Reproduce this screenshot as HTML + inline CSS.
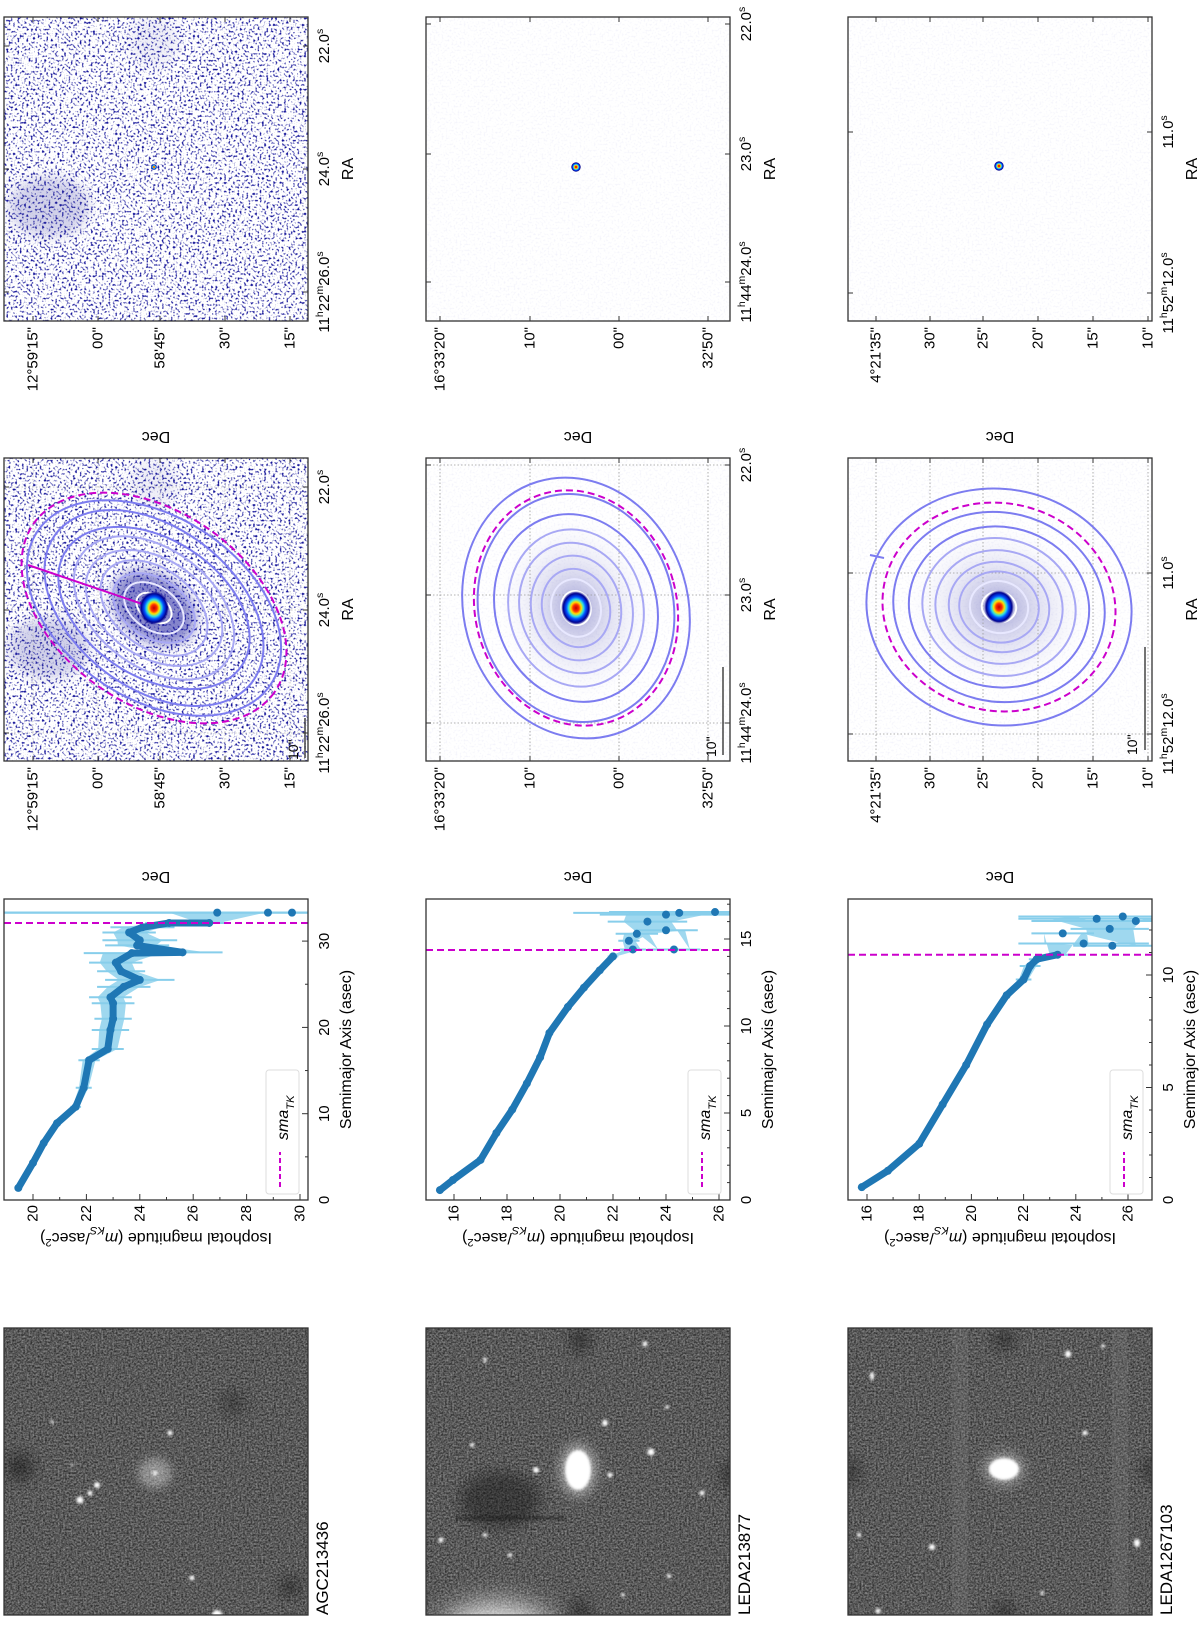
<!DOCTYPE html>
<html><head><meta charset="utf-8"><style>
html,body{margin:0;padding:0;background:#fff;}
svg{display:block;font-family:"Liberation Sans","DejaVu Sans",sans-serif;}
</style></head><body>
<svg id="fig" width="1200" height="1647" viewBox="0 0 1200 1647" xmlns="http://www.w3.org/2000/svg">
<defs>
<filter id="speck" x="0" y="0" width="1" height="1" filterUnits="objectBoundingBox" color-interpolation-filters="sRGB"><feTurbulence type="fractalNoise" baseFrequency="0.45" numOctaves="1" seed="3"/><feColorMatrix type="matrix" values="0 0 0 0 0.08  0 0 0 0 0.08  0 0 0 0 0.6  5 0 0 0 -2.65"/></filter>
<filter id="faint" x="0" y="0" width="1" height="1" filterUnits="objectBoundingBox" color-interpolation-filters="sRGB"><feTurbulence type="fractalNoise" baseFrequency="0.5" numOctaves="1" seed="5"/><feColorMatrix type="matrix" values="0 0 0 0 0.7  0 0 0 0 0.7  0 0 0 0 0.9  2 0 0 0 -1.0"/></filter>
<filter id="gray" x="0" y="0" width="1" height="1" filterUnits="objectBoundingBox" color-interpolation-filters="sRGB"><feTurbulence type="fractalNoise" baseFrequency="0.55" numOctaves="2" seed="11"/><feColorMatrix type="matrix" values="0.6 0 0 0 0.05  0.6 0 0 0 0.05  0.6 0 0 0 0.05  0 0 0 0 1"/></filter>
<filter id="blur1" x="-100%" y="-100%" width="300%" height="300%"><feGaussianBlur stdDeviation="1.2"/></filter>
<filter id="blur6" x="-100%" y="-100%" width="300%" height="300%"><feGaussianBlur stdDeviation="6"/></filter>
<filter id="blur15" x="-100%" y="-100%" width="300%" height="300%"><feGaussianBlur stdDeviation="15"/></filter>
<radialGradient id="core"><stop offset="0" stop-color="#c00000"/><stop offset="0.2" stop-color="#ff3000"/><stop offset="0.35" stop-color="#ffe000"/><stop offset="0.5" stop-color="#30e0e0"/><stop offset="0.65" stop-color="#0050ff"/><stop offset="0.85" stop-color="#000090"/><stop offset="1" stop-color="#000080" stop-opacity="0"/></radialGradient>
<radialGradient id="halo"><stop offset="0" stop-color="#6060b8" stop-opacity="0.6"/><stop offset="0.4" stop-color="#9a9ad4" stop-opacity="0.3"/><stop offset="1" stop-color="#ffffff" stop-opacity="0"/></radialGradient>
<radialGradient id="galglow"><stop offset="0" stop-color="#fff"/><stop offset="0.5" stop-color="#eee" stop-opacity="0.8"/><stop offset="1" stop-color="#aaa" stop-opacity="0"/></radialGradient>
</defs>
<g id="root"></g>
</svg>
<script>
// ---- profile data (mag in mKs/asec^2, sma in asec) ----
const sma1 = [1.4,4.3,6.6,8.9,10.8,13.0,16.2,17.5,19.7,21.0,22.8,23.5,24.7,25.5,26.5,27.5,28.6,28.7,29.5,30.1,31.0,31.6,32.1,32.1,33.3,33.3,33.3];
const mag1 = [19.45,20.0,20.4,20.9,21.6,21.9,22.1,22.8,22.9,23.0,23.0,22.9,23.4,24.0,23.3,23.1,23.7,25.6,23.9,24.0,23.6,24.1,25.1,26.6,26.9,28.8,29.7];
const err1 = [0.05,0.1,0.1,0.15,0.2,0.3,0.4,0.6,0.7,0.7,0.8,0.8,1.0,1.3,0.9,1.0,1.8,1.5,1.2,1.4,1.0,1.2,0.9,0.6,12,12,12];
const smaTK1 = 32.1;
const sma2 = [0.57,1.15,2.3,3.85,5.2,6.7,8.2,9.6,11.1,12.2,13.2,14.0,14.4,14.9,15.3,15.5,14.4,16.0,16.4,16.5,16.55];
const mag2 = [15.47,15.96,17.0,17.6,18.2,18.75,19.25,19.6,20.3,20.9,21.5,22.0,22.75,22.6,22.9,24.0,24.3,23.3,24.0,24.5,25.85];
const err2 = [0,0,0,0,0,0,0,0,0.05,0.1,0.15,0.2,0.5,0.4,0.8,1.2,1.0,1.5,2.5,4.0,4.0];
const smaTK2 = 14.37;
const sma3 = [0.57,1.3,2.5,4.25,6.0,7.8,9.1,9.8,10.4,10.7,10.9,11.85,11.4,11.3,12.05,12.5,12.6,12.4];
const mag3 = [15.8,16.8,18.0,18.9,19.8,20.6,21.35,22.0,22.25,22.5,23.3,23.5,24.3,25.4,25.3,24.8,25.8,26.3];
const err3 = [0,0,0,0,0,0,0.05,0.3,0.4,0.3,0.5,1.2,2.5,1.5,1.5,3.0,4.0,4.0];
const smaTK3 = 10.9;
const magTicks1 = [20,22,24,26,28,30];
const smaTicks1 = [0,10,20,30];
const magTicks23 = [16,18,20,22,24,26];
const smaTicks2 = [0,5,10,15];
const smaTicks3 = [0,5,10];
const names = ["AGC213436","LEDA213877","LEDA1267103"];

const NS="http://www.w3.org/2000/svg";
const root=document.getElementById('root');
function el(tag,attrs,parent){const e=document.createElementNS(NS,tag);for(const k in attrs)e.setAttribute(k,attrs[k]);(parent||root).appendChild(e);return e;}
function txt(x,y,s,rot,anchor,size,parent,extra){
  const t=el('text',{x:0,y:0,'font-size':size||14,'text-anchor':anchor||'middle',transform:`translate(${x},${y}) rotate(${rot})`,fill:'#000'},parent);
  if(extra&&extra.baseline)t.setAttribute('dominant-baseline',extra.baseline);
  if(Array.isArray(s)){s.forEach(p=>{const ts=el('tspan',{},t);ts.textContent=p[0];if(p[1]){ts.setAttribute('baseline-shift','super');ts.setAttribute('font-size',(size||14)*0.7);}if(p[2])ts.setAttribute('font-style','italic');if(p[3]){ts.setAttribute('baseline-shift','sub');ts.setAttribute('font-size',(size||14)*0.7);ts.setAttribute('font-style','italic');}});}
  else t.textContent=s;
  return t;
}
const SX=[4,426,848], PW=304;
const RES=[17,321], CON=[458,761], PRO=[899,1200], GRY=[1328,1615];

const raTicks=[
  [[487,[["22.0"],["s",1]]],[610,[["24.0"],["s",1]]],[733,[["11"],["h",1],["22"],["m",1],["26.0"],["s",1]]]],
  [[465,[["22.0"],["s",1]]],[595,[["23.0"],["s",1]]],[723,[["11"],["h",1],["44"],["m",1],["24.0"],["s",1]]]],
  [[573,[["11.0"],["s",1]]],[734,[["11"],["h",1],["52"],["m",1],["12.0"],["s",1]]]]
];
const decTicks=[
  [[33,"12°59'15\""],[98,"00\""],[160,"58'45\""],[225,"30\""],[290,"15\""]],
  [[440,"16°33'20\""],[530,"10\""],[619,"00\""],[708,"32'50\""]],
  [[876,"4°21'35\""],[930,"30\""],[983,"25\""],[1038,"20\""],[1093,"15\""],[1148,"10\""]]
];
const centers=[[154,608],[576,608],[999,607]];
const ell=[{rx:150,ry:98,rot:35},{rx:112,ry:132,rot:-15},{rx:133,ry:118,rot:12}];
const magenta=[0.98,0.9,0.88];
const ringScales=[[0.93,0.82,0.7,0.6,0.5,0.4,0.3],[1.0,0.87,0.72,0.6,0.5,0.4,0.3],[1.0,0.8,0.68,0.58,0.48,0.38,0.3]];
const scaleBar=[[305,718,758,298,760],[723,667,755,716,757],[1145,647,750,1137,755]];

function wcsPanel(i,y0,y1,isContour,off){
  const sx=SX[i];
  const g=el('g',{});
  
  
  el('rect',{x:sx,y:y0,width:PW,height:y1-y0,fill:'#fff'},g);
  const clipId='clip'+i+(isContour?'c':'r');
  const cp=el('clipPath',{id:clipId},g);el('rect',{x:sx,y:y0,width:PW,height:y1-y0},cp);
  const inner=el('g',{'clip-path':`url(#${clipId})`},g);
  const [cx,cy0]=centers[i]; const cy=cy0-off;
  if(i===0){
    el('rect',{x:sx,y:y0,width:PW,height:y1-y0,fill:'#fff',filter:'url(#speck)'},inner);
    el('ellipse',{cx:sx+45,cy:y0+190,rx:40,ry:30,fill:'#3030a0',opacity:0.22,filter:'url(#blur6)'},inner);
    el('ellipse',{cx:sx+150,cy:y0+25,rx:25,ry:25,fill:'#3030a0',opacity:0.08,filter:'url(#blur6)'},inner);
    if(isContour){el('ellipse',{cx,cy,rx:45,ry:32,fill:'#10109a',opacity:0.5,transform:`rotate(35 ${cx} ${cy})`,filter:'url(#blur6)'},inner);}
  } else {
    el('rect',{x:sx,y:y0,width:PW,height:y1-y0,fill:'#fff',filter:'url(#faint)',opacity:0.25},inner);
    if(isContour){el('ellipse',{cx,cy,rx:ell[i].rx*0.75,ry:ell[i].ry*0.75,fill:'url(#halo)',transform:`rotate(${ell[i].rot} ${cx} ${cy})`},inner);}
  }
  const gc=(i===0)?'#bbb':'#999';
  raTicks[i].forEach(t=>{const y=t[0]-off;if(isContour)el('line',{x1:sx,x2:sx+PW,y1:y,y2:y,stroke:gc,'stroke-width':0.8,'stroke-dasharray':'1.5 2'},inner);});
  decTicks[i].forEach(t=>{if(isContour)el('line',{x1:t[0],x2:t[0],y1:y0,y2:y1,stroke:gc,'stroke-width':0.8,'stroke-dasharray':'1.5 2'},inner);});
  if(isContour){
    const e=ell[i];
    ringScales[i].forEach((s,k)=>{
      const r=el('ellipse',{cx,cy,rx:e.rx*s,ry:e.ry*s,fill:'none',stroke:k<3?'#7c7cf0':'#a8a8f4','stroke-width':2,transform:`rotate(${e.rot+(k%2?2:-2)} ${cx} ${cy})`},inner);
      
    });
    el('ellipse',{cx,cy,rx:e.rx*0.22,ry:e.ry*0.22,fill:'none',stroke:'#e8e8ff','stroke-width':2,transform:`rotate(${e.rot} ${cx} ${cy})`},inner);
    el('ellipse',{cx,cy,rx:e.rx*0.13,ry:e.ry*0.13,fill:'none',stroke:'#fff','stroke-width':2,transform:`rotate(${e.rot} ${cx} ${cy})`},inner);
    const m=el('ellipse',{cx,cy,rx:e.rx*magenta[i],ry:e.ry*magenta[i],fill:'none',stroke:'#cc00cc','stroke-width':2,'stroke-dasharray':'7 4',transform:`rotate(${e.rot} ${cx} ${cy})`},inner);
    
    if(i===0)el('line',{x1:cx,y1:cy,x2:sx+24,y2:565,stroke:'#cc00cc','stroke-width':2},inner);
    if(i===2)el('line',{x1:870,y1:555,x2:884,y2:558,stroke:'#7c7cf0','stroke-width':2},inner);
    el('ellipse',{cx,cy,rx:15,ry:17,fill:'url(#core)'},inner);
    const sb=scaleBar[i];
    el('line',{x1:sb[0],x2:sb[0],y1:sb[1],y2:sb[2],stroke:'#444','stroke-width':1.5},g);
    txt(sb[3],sb[4],'10"',-90,'start',14,g);
  } else {
    el('ellipse',{cx,cy,rx:i===0?3:5,ry:i===0?3:5,fill:'url(#core)'},inner);
  }
  el('rect',{x:sx,y:y0,width:PW,height:y1-y0,fill:'none',stroke:'#333','stroke-width':1.3},g);
  raTicks[i].forEach(t=>{const y=t[0]-off;
    el('line',{x1:sx,x2:sx+5,y1:y,y2:y,stroke:'#333'},g);el('line',{x1:sx+PW-5,x2:sx+PW,y1:y,y2:y,stroke:'#333'},g);
    txt(sx+PW+21,y,t[1],-90,'middle',15,g);});
  decTicks[i].forEach(t=>{
    el('line',{x1:t[0],x2:t[0],y1:y0,y2:y0+5,stroke:'#333'},g);el('line',{x1:t[0],x2:t[0],y1:y1-5,y2:y1,stroke:'#333'},g);
    txt(t[0],y1+6,t[1],-90,'end',15,g,{baseline:'central'});});
  const ra=txt(sx+PW+45,(y0+y1)/2,'RA',-90,'middle',16,g);
  
  const dec=txt(sx+PW/2,y1+111,'Dec',180,'middle',16,g);
  
}

function profile(i,sma,mag,err,tk,magTicks,smaTicks,px0,m0,k,kS,minorMag,minorSma){
  const sx=SX[i],y0=PRO[0],y1=PRO[1];
  const X=m=>sx+px0+(m-m0)*k;
  const Y=s=>y1-s*kS;
  const g=el('g',{});
  
  
  const clipId='pclip'+i;const cp=el('clipPath',{id:clipId},g);el('rect',{x:sx,y:y0,width:PW,height:y1-y0},cp);
  const inner=el('g',{'clip-path':`url(#${clipId})`},g);
  sma.forEach((s,j)=>{if(err[j]>0){const b=el('line',{x1:X(mag[j]-err[j]),x2:X(mag[j]+err[j]),y1:Y(s),y2:Y(s),stroke:'#87ceeb','stroke-width':2},inner);
    }});
  const up=sma.map((s,j)=>[X(mag[j]+Math.min(err[j],3)*0.6),Y(s)]);const dn=sma.map((s,j)=>[X(mag[j]-Math.min(err[j],3)*0.6),Y(s)]).reverse();
  el('polygon',{points:up.concat(dn).map(p=>p.join(',')).join(' '),fill:'#87ceeb',opacity:0.8},inner);
  const tkY=Y(tk);
  const nl=sma.map((s,j)=>[s,j]).filter(p=>p[0]<=tk+0.01).sort((a,b)=>a[0]-b[0]);
  el('polyline',{points:nl.map(p=>X(mag[p[1]])+','+Y(p[0])).join(' '),fill:'none',stroke:'#1f77b4','stroke-width':7,'stroke-linejoin':'round','stroke-linecap':'round'},inner);
  sma.forEach((s,j)=>{const c=el('circle',{cx:X(mag[j]),cy:Y(s),r:4,fill:'#1f77b4'},inner);
    });
  const tl=el('line',{x1:sx,x2:sx+PW,y1:tkY,y2:tkY,stroke:'#cc00cc','stroke-width':2,'stroke-dasharray':'7 4'},inner);
  
  el('rect',{x:sx,y:y0,width:PW,height:y1-y0,fill:'none',stroke:'#333','stroke-width':1.3},g);
  minorMag.forEach(m=>{el('line',{x1:X(m),x2:X(m),y1:y1,y2:y1-3,stroke:'#333'},g);});
  minorSma.forEach(s=>{el('line',{x1:sx+PW,x2:sx+PW-3,y1:Y(s),y2:Y(s),stroke:'#333'},g);});
  magTicks.forEach(m=>{el('line',{x1:X(m),x2:X(m),y1:y1,y2:y1-6,stroke:'#333'},g);txt(X(m),y1+5,String(m),-90,'end',15,g,{baseline:'central'});});
  smaTicks.forEach(s=>{el('line',{x1:sx+PW,x2:sx+PW-6,y1:Y(s),y2:Y(s),stroke:'#333'},g);txt(sx+PW+21,Y(s),String(s),-90,'middle',15,g);});
  const xl=txt(sx+PW+43,(y0+y1)/2,'Semimajor Axis (asec)',-90,'middle',16,g);
  
  const yl=txt(sx+PW/2,y1+33,[["Isophotal magnitude ("],["m",0,1],["KS",0,0,1],["/asec"],["2",1],[")"]],180,'middle',16,g);
  
  const lg=el('g',{},g);
  
  el('rect',{x:sx+262,y:1070,width:33,height:124,rx:3,fill:'#fff',stroke:'#ddd'},lg);
  el('line',{x1:sx+276,x2:sx+276,y1:1187,y2:1152,stroke:'#cc00cc','stroke-width':2,'stroke-dasharray':'5 3'},lg);
  txt(sx+284,1140,[["sma",0,1],["TK",0,0,1]],-90,'start',16,lg);
}

function grayPanel(i,stars,dark,extra){
  const sx=SX[i],y0=GRY[0],y1=GRY[1];
  const g=el('g',{});
  
  
  const clipId='gclip'+i;const cp=el('clipPath',{id:clipId},g);el('rect',{x:sx,y:y0,width:PW,height:y1-y0},cp);
  const inner=el('g',{'clip-path':`url(#${clipId})`},g);
  el('rect',{x:sx,y:y0,width:PW,height:y1-y0,fill:'#555',filter:'url(#gray)'},inner);
  dark.forEach(d=>el('ellipse',{cx:d[0],cy:d[1],rx:d[2],ry:d[3],fill:'#111',opacity:d[4]||0.45,filter:'url(#blur6)'},inner));
  if(extra)extra(inner);
  stars.forEach(s=>el('ellipse',{cx:s[0],cy:s[1],rx:s[2],ry:s[3]||s[2],fill:'#fff',filter:'url(#blur1)'},inner));
  el('rect',{x:sx,y:y0,width:PW,height:y1-y0,fill:'none',stroke:'#333','stroke-width':1.3},g);
  const n=txt(sx+PW+20,y1,names[i],-90,'start',17,g);
  
}

for(let i=0;i<3;i++){wcsPanel(i,RES[0],RES[1],false,441);wcsPanel(i,CON[0],CON[1],true,0);}
profile(0,sma1,mag1,err1,smaTK1,magTicks1,smaTicks1,29,20,26.7,8.63,[21,23,25,27,29],[5,15,25]);
profile(1,sma2,mag2,err2,smaTK2,magTicks23,smaTicks2,28,16,26.5,17.4,[17,19,21,23,25],[1,2,3,4,6,7,8,9,11,12,13,14,16,17]);
profile(2,sma3,mag3,err3,smaTK3,magTicks23,smaTicks3,19,16,26.1,22.5,[17,19,21,23,25],[1,2,3,4,6,7,8,9,11,12]);

grayPanel(0,[[80,1500,3.5],[97,1485,3],[90,1493,2.5],[170,1433,2.5],[192,1578,2.5],[217,1615,5],[52,1422,1.5],[155,1473,2],[72,1465,1.3]],
  [[20,1467,14,14],[290,1587,10,10],[233,1403,12,12,0.3]],
  g=>{el('ellipse',{cx:155,cy:1473,rx:24,ry:22,fill:'url(#galglow)',opacity:0.4},g);});
grayPanel(1,[[605,1423,3],[651,1452,3.5],[536,1470,3],[610,1475,2.5],[645,1344,2.5],[485,1360,1.5,3],[472,1445,2],[702,1493,2.5],[441,1540,2.5],[485,1535,2],[510,1555,2],[669,1576,2],[623,1595,1.8],[667,1407,1.8]],
  [[500,1500,40,28,0.4],[580,1340,10,12],[730,1475,8,14],[580,1612,10,12]],
  g=>{el('rect',{x:455,y:1516,width:110,height:4,fill:'#111',opacity:0.35,filter:'url(#blur1)'},g);
    el('ellipse',{cx:497,cy:1640,rx:60,ry:35,fill:'#fff',opacity:0.9,filter:'url(#blur15)'},g);
    el('ellipse',{cx:578,cy:1470,rx:18,ry:26,fill:'#ddd',opacity:0.6,filter:'url(#blur6)'},g);
    el('ellipse',{cx:578,cy:1470,rx:13,ry:20,fill:'#fff',filter:'url(#blur1)'},g);});
grayPanel(2,[[1068,1354,3,3.5],[872,1376,2,4],[1085,1433,2.5],[932,1547,3],[1137,1543,3,4],[859,1535,2],[878,1611,2.5],[1103,1346,1.8],[1042,1593,1.8],[1155,1612,3]],
  [[1004,1340,10,10],[1151,1470,8,12],[851,1472,8,12],[1004,1612,10,10]],
  g=>{el('rect',{x:952,y:1328,width:16,height:287,fill:'#888',opacity:0.2},g);
    el('rect',{x:1112,y:1328,width:16,height:287,fill:'#888',opacity:0.2},g);
    el('ellipse',{cx:1004,cy:1469,rx:20,ry:16,fill:'#ddd',opacity:0.5,filter:'url(#blur6)'},g);
    el('ellipse',{cx:1004,cy:1469,rx:15,ry:11,fill:'#fff',filter:'url(#blur1)'},g);});
</script>
</body></html>
